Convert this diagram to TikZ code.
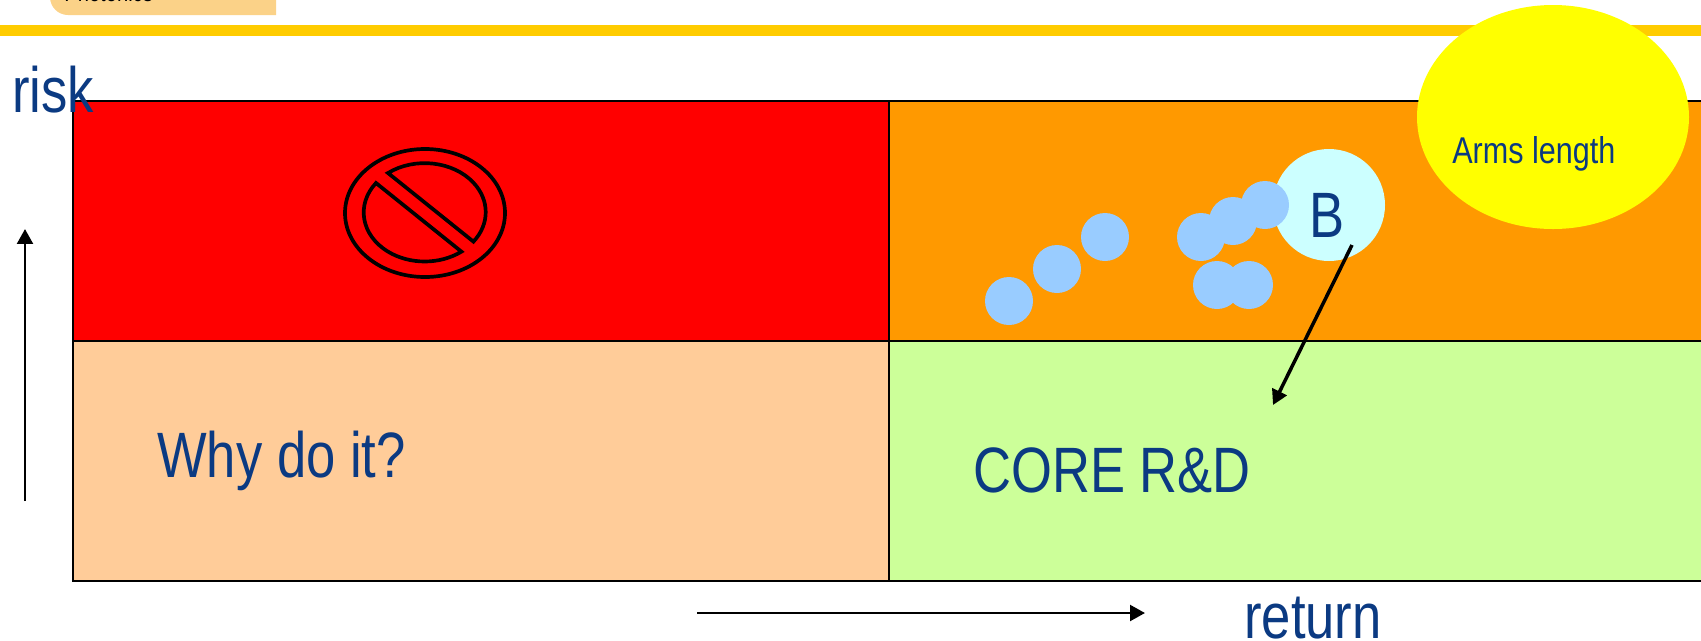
\documentclass[tikz,border=0pt]{standalone}
\usepackage{fontspec}
\setmainfont[FakeStretch=0.82]{Liberation Sans}
\usetikzlibrary{arrows.meta}
\definecolor{labelblue}{HTML}{0B3A82}
\definecolor{barcol}{HTML}{FFCC00}
\definecolor{tabcol}{HTML}{FBD288}
\definecolor{riskred}{HTML}{FF0000}
\definecolor{riskorange}{HTML}{FF9900}
\definecolor{peach}{HTML}{FFCC99}
\definecolor{coregreen}{HTML}{CCFF99}
\definecolor{dotblue}{HTML}{99CCFF}
\definecolor{paleblue}{HTML}{CCFFFF}
\definecolor{armsyellow}{HTML}{FFFF00}
\tikzset{
    biglabel/.style={anchor=base west,inner sep=0pt,text=labelblue,font=\fontsize{36.5}{40}\selectfont},
    smalllabel/.style={anchor=base west,inner sep=0pt,text=labelblue,font=\fontsize{21.2}{24}\selectfont},
    axisarrow/.style={-{Triangle[length=8.5pt,width=9pt]},line width=1.5pt},
    gridline/.style={line width=1.15pt},
    signline/.style={line width=2.1pt}
}

\begin{document}
\begin{tikzpicture}[x=0.02cm,y=-0.02cm]
            \clip (0,0) rectangle (1701,640);
            % top of the slide
            \fill[tabcol] (50,-20) -- (50,-3) arc[start angle=180,end angle=90,radius=18] -- (276,15) -- (276,-20) -- cycle;
            \node[anchor=base west,inner sep=0pt,font=\fontsize{14}{16}\selectfont] (tabtext) at (64,1) {Photonics};
            \fill[barcol] (0,25) rectangle (1701,36);
            % quadrants
            \fill[riskred] (73,101) rectangle (889,341);
            \fill[riskorange] (889,101) rectangle (1701,341);
            \fill[peach] (73,341) rectangle (889,581);
            \fill[coregreen] (889,341) rectangle (1701,581);
            \draw[gridline] (1701,101) -- (73,101) -- (73,581) -- (1701,581);
            \draw[gridline] (73,341) -- (1701,341);
            \draw[gridline] (889,101) -- (889,581);
            % no entry sign
            \draw[signline] (425,213) ellipse [x radius=80,y radius=64];
            \draw[signline] (388,173) arc[start angle=233,end angle=397,x radius=61,y radius=49] -- cycle;
            \draw[signline] (376,183) arc[start angle=217,end angle=53,x radius=61,y radius=49] -- cycle;
            % projects
            \fill[paleblue] (1329,205) circle (56);
            \foreach \px/\py in {1009/301,1057/269,1105/237,1201/237,1233/221,1265/205,1217/285,1249/285}
                \fill[dotblue] (\px,\py) circle (24);
            \fill[armsyellow] (1553,117) ellipse [x radius=136,y radius=112];
            % labels
            \node[biglabel] (risk) at (12,112) {risk};
            \node[biglabel] (why) at (157,477) {Why do it?};
            \node[biglabel] (core) at (973,492) {CORE R\&D};
            \node[biglabel] (return) at (1244,638) {return};
            \node[biglabel] (B) at (1309,237) {B};
            \node[smalllabel] (arms) at (1452,163) {Arms length};
            % arrows
            \coordinate (riskfrom) at (25,501);
            \coordinate (riskto) at (25,229);
            \coordinate (returnfrom) at (697,613);
            \coordinate (returnto) at (1145,613);
            \coordinate (movefrom) at (1352,245);
            \coordinate (moveto) at (1273,405);
            \draw[axisarrow] (riskfrom) -- (riskto);
            \draw[axisarrow] (returnfrom) -- (returnto);
            \draw[axisarrow,line width=2pt] (movefrom) -- (moveto);
        \end{tikzpicture}
\end{document}
